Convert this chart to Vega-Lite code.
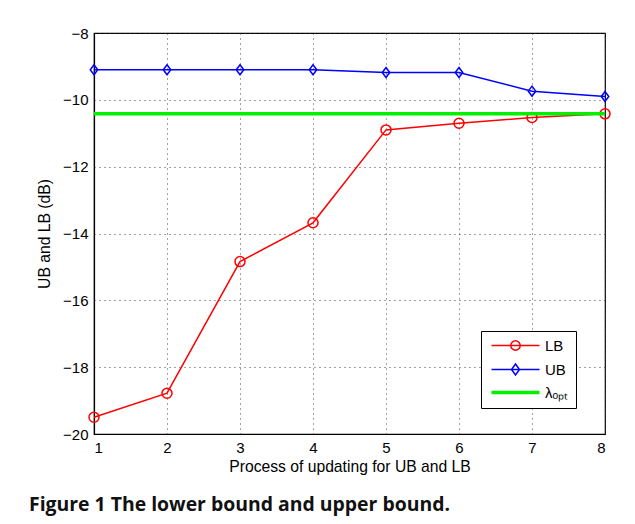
{
  "$schema": "https://vega.github.io/schema/vega-lite/v6.json",
  "autosize": {"type": "none"},
  "padding": {"left": 94, "top": 33, "right": 30, "bottom": 90},
  "width": 511,
  "height": 401,
  "background": "white",
  "title": {
    "text": "Figure 1 The lower bound and upper bound.",
    "orient": "bottom",
    "anchor": "start",
    "frame": "group",
    "dx": -65,
    "offset": 22,
    "font": "Open Sans",
    "fontSize": 19.4,
    "fontWeight": "bold",
    "color": "#111"
  },
  "datasets": {
    "bounds": [
      {"step": 1, "value": -19.5, "series": "LB"},
      {"step": 2, "value": -18.78, "series": "LB"},
      {"step": 3, "value": -14.84, "series": "LB"},
      {"step": 4, "value": -13.68, "series": "LB"},
      {"step": 5, "value": -10.9, "series": "LB"},
      {"step": 6, "value": -10.7, "series": "LB"},
      {"step": 7, "value": -10.53, "series": "LB"},
      {"step": 8, "value": -10.42, "series": "LB"},
      {"step": 1, "value": -9.1, "series": "UB"},
      {"step": 2, "value": -9.1, "series": "UB"},
      {"step": 3, "value": -9.1, "series": "UB"},
      {"step": 4, "value": -9.1, "series": "UB"},
      {"step": 5, "value": -9.18, "series": "UB"},
      {"step": 6, "value": -9.18, "series": "UB"},
      {"step": 7, "value": -9.74, "series": "UB"},
      {"step": 8, "value": -9.9, "series": "UB"}
    ],
    "optimum": [
      {"step": 1, "value": -10.42, "series": "λopt"},
      {"step": 8, "value": -10.42, "series": "λopt"}
    ]
  },
  "encoding": {
    "x": {
      "field": "step",
      "type": "quantitative",
      "scale": {"domain": [1, 8], "nice": false, "zero": false},
      "axis": {
        "title": "Process of updating for UB and LB",
        "values": [1, 2, 3, 4, 5, 6, 7, 8],
        "format": "d",
        "labelPadding": 6,
        "titlePadding": 4
      }
    },
    "y": {
      "field": "value",
      "type": "quantitative",
      "scale": {"domain": [-20, -8], "nice": false, "zero": false},
      "axis": {
        "title": "UB and LB (dB)",
        "values": [-20, -18, -16, -14, -12, -10, -8],
        "format": "d",
        "labelPadding": 6,
        "titlePadding": 10
      }
    },
    "color": {
      "field": "series",
      "type": "nominal",
      "scale": {
        "domain": ["LB", "UB", "λopt"],
        "range": ["#ff0000", "#0000ff", "#00f000"]
      },
      "legend": {
        "title": null,
        "orient": "none",
        "legendX": 387,
        "legendY": 298,
        "direction": "vertical",
        "padding": 7,
        "strokeColor": "#000",
        "fillColor": "white",
        "cornerRadius": 0,
        "symbolSize": 100,
        "symbolOffset": 20,
        "symbolStrokeWidth": 1.5,
        "symbolFillColor": "transparent",
        "labelOffset": 22,
        "labelFont": "Liberation Sans",
        "labelFontSize": 15,
        "labelColor": "#000",
        "rowPadding": 7,
        "labelExpr": "datum.label === 'λopt' ? 'λₒₚₜ' : datum.label",
        "encode": {
          "symbols": {
            "update": {
              "shape": {
                "signal": "datum.value === 'LB' ? 'M-4.8,0H4.8M0.94,0C0.94,0.519 0.519,0.94 0,0.94C-0.519,0.94 -0.94,0.519 -0.94,0C-0.94,-0.519 -0.519,-0.94 0,-0.94C0.519,-0.94 0.94,-0.519 0.94,0Z' : datum.value === 'UB' ? 'M-4.8,0H4.8M0,-1.1L0.8,0L0,1.1L-0.8,0Z' : 'M-4.8,0H4.8'"
              },
              "strokeWidth": {"signal": "datum.value === 'λopt' ? 3.5 : 1.5"},
              "fill": {"value": "transparent"}
            }
          }
        }
      }
    }
  },
  "layer": [
    {
      "data": {"name": "bounds"},
      "mark": {"type": "line", "strokeWidth": 1.5}
    },
    {
      "data": {"name": "bounds"},
      "transform": [{"filter": "datum.series === 'LB'"}],
      "mark": {"type": "point", "shape": "circle", "size": 100, "filled": false, "strokeWidth": 1.5, "opacity": 1}
    },
    {
      "data": {"name": "bounds"},
      "transform": [{"filter": "datum.series === 'UB'"}],
      "mark": {"type": "point", "shape": "M0,-1L0.75,0L0,1L-0.75,0Z", "size": 100, "filled": false, "strokeWidth": 1.5, "opacity": 1}
    },
    {
      "data": {"name": "optimum"},
      "mark": {"type": "line", "strokeWidth": 3.5}
    }
  ],
  "config": {
    "font": "Liberation Sans",
    "view": {"stroke": "#000", "strokeWidth": 1.2},
    "axis": {
      "labelFont": "Liberation Sans",
      "labelFontSize": 15,
      "labelColor": "#000",
      "titleFont": "Liberation Sans",
      "titleFontSize": 15.7,
      "titleFontWeight": "normal",
      "titleColor": "#000",
      "domainColor": "#000",
      "domainWidth": 1.2,
      "ticks": false,
      "grid": true,
      "gridColor": "#333",
      "gridOpacity": 0.9,
      "gridDash": [1, 4],
      "gridWidth": 1
    }
  }
}
